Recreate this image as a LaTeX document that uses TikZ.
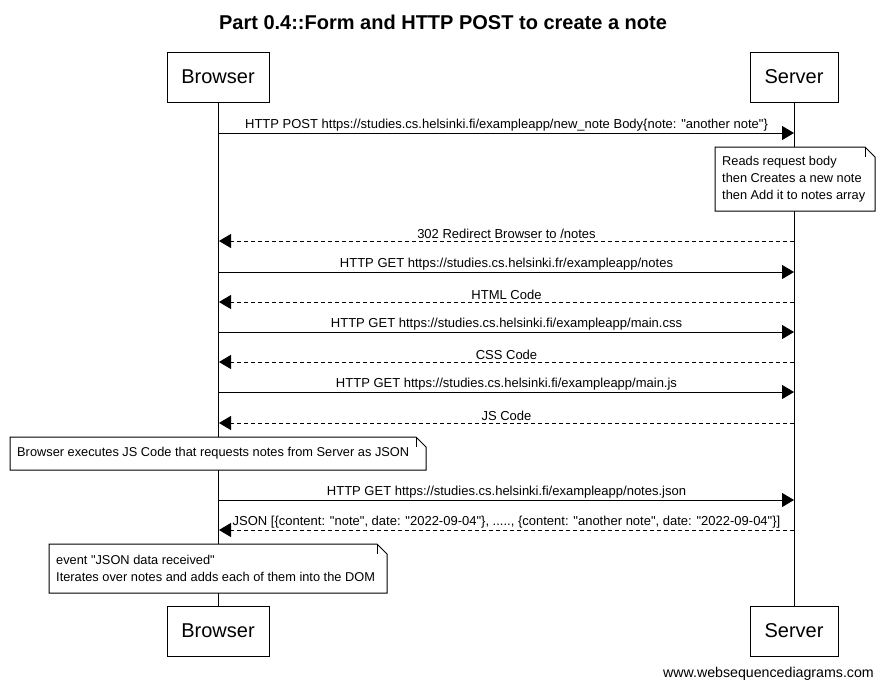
\documentclass[tikz,border=0pt]{standalone}
\usepackage{fontspec}
\setmainfont{Liberation Sans}[Ligatures=TeXOff]
\usetikzlibrary{arrows.meta,calc}
% #1 name, #2 north-west corner, #3 south-east corner, #4 text
\newcommand\dognote[4]{%
  \coordinate (#1nw) at #2;
  \coordinate (#1se) at #3;
  \draw[line width=1pt,fill=white] (#1nw) -- ($(#1se |- #1nw)+(-10,0)$) -- ($(#1se |- #1nw)+(0,10)$) -- (#1se) -- (#1nw |- #1se) -- cycle;
  \draw[line width=1pt] ($(#1se |- #1nw)+(-10,0)$) -- ++(0,10);
  \node[notetext] (#1) at ($(#1nw)!0.5!(#1nw |- #1se)+(7,0)$) {#4};}
\begin{document}
\begin{tikzpicture}[x=1pt,y=-1pt,
  part/.style={draw,line width=1pt,minimum height=50pt,inner sep=0pt,font=\fontsize{20}{24}\selectfont},
  msglabel/.style={font=\fontsize{13}{15}\selectfont,anchor=south,inner sep=1pt},
  req/.style={line width=1pt,-{Triangle[length=12pt,width=14pt]}},
  resp/.style={line width=1pt,dash pattern=on 4pt off 3pt,-{Triangle[length=12pt,width=14pt]}},
  life/.style={line width=1pt},
  notetext/.style={anchor=west,align=left,inner sep=0pt,font=\fontsize{12.8}{17}\selectfont},
]
\useasboundingbox (0,0) rectangle (883,689);
\node[font=\bfseries\fontsize{20}{24}\selectfont] (title) at (443,22) {Part 0.4::Form and HTTP POST to create a note};

\node[part,minimum width=102pt] (btop) at (218,77) {Browser};
\node[part,minimum width=88pt] (stop) at (794,77) {Server};
\node[part,minimum width=102pt] (bbot) at (218,631) {Browser};
\node[part,minimum width=88pt] (sbot) at (794,631) {Server};
\draw[life] (btop.south) -- (bbot.north);
\draw[life] (stop.south) -- (sbot.north);

% lifeline coordinates
\foreach \n/\y in {1/133,2/241,3/272,4/302,5/332,6/362,7/392,8/423,9/500,10/530}{
  \coordinate (b\n) at (219,\y);
  \coordinate (s\n) at (794,\y);
}

\draw[req] (b1) -- (s1);
\node[msglabel] (l1) at ($(b1)!0.5!(s1)+(0,-1)$) {HTTP POST https://studies.cs.helsinki.fi/exampleapp/new\_note Body\{note: "another note"\}};

\dognote{n1}{(715,147)}{(875,211)}{Reads request body\\then Creates a new note\\then Add it to notes array}

\draw[resp] (s2) -- (b2);
\node[msglabel] (l2) at ($(b2)!0.5!(s2)+(0,-1)$) {302 Redirect Browser to /notes};
\draw[req] (b3) -- (s3);
\node[msglabel] (l3) at ($(b3)!0.5!(s3)+(0,-1)$) {HTTP GET https://studies.cs.helsinki.fr/exampleapp/notes};
\draw[resp] (s4) -- (b4);
\node[msglabel] (l4) at ($(b4)!0.5!(s4)+(0,-1)$) {HTML Code};
\draw[req] (b5) -- (s5);
\node[msglabel] (l5) at ($(b5)!0.5!(s5)+(0,-1)$) {HTTP GET https://studies.cs.helsinki.fi/exampleapp/main.css};
\draw[resp] (s6) -- (b6);
\node[msglabel] (l6) at ($(b6)!0.5!(s6)+(0,-1)$) {CSS Code};
\draw[req] (b7) -- (s7);
\node[msglabel] (l7) at ($(b7)!0.5!(s7)+(0,-1)$) {HTTP GET https://studies.cs.helsinki.fi/exampleapp/main.js};
\draw[resp] (s8) -- (b8);
\node[msglabel] (l8) at ($(b8)!0.5!(s8)+(0,-1)$) {JS Code};

\dognote{n2}{(10,437)}{(426,470)}{Browser executes JS Code that requests notes from Server as JSON}

\draw[req] (b9) -- (s9);
\node[msglabel] (l9) at ($(b9)!0.5!(s9)+(0,-1)$) {HTTP GET https://studies.cs.helsinki.fi/exampleapp/notes.json};
\draw[resp] (s10) -- (b10);
\node[msglabel] (l10) at ($(b10)!0.5!(s10)+(0,-1)$) {JSON [\{content: "note", date: "2022-09-04"\}, ....., \{content: "another note", date: "2022-09-04"\}]};

\dognote{n3}{(49,544)}{(387,593)}{event "JSON data received"\\Iterates over notes and adds each of them into the DOM}

\node[font=\fontsize{14.2}{17}\selectfont,anchor=east,inner sep=0pt] (footer) at (874,674) {www.websequencediagrams.com};
\end{tikzpicture}
\end{document}
